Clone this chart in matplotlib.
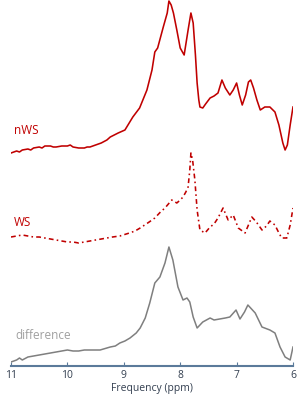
import matplotlib
matplotlib.use("Agg")
import matplotlib.pyplot as plt
import numpy as np

# ---- data (ppm, intensity in arbitrary units relative to each trace's baseline) ----
nws_ppm = [11.0, 10.95, 10.9, 10.85, 10.8, 10.7, 10.65, 10.6, 10.5, 10.45, 10.4, 10.3, 10.25, 10.2, 10.1,
           10.0, 9.95, 9.9, 9.8, 9.7, 9.65, 9.6, 9.5, 9.45, 9.4, 9.3, 9.24, 9.1, 8.98, 8.84, 8.72,
           8.59, 8.5, 8.45, 8.40, 8.30, 8.23, 8.20, 8.16, 8.12, 8.06, 8.0, 7.93, 7.86, 7.81,
           7.77, 7.73, 7.70, 7.67, 7.65, 7.60, 7.55, 7.47, 7.40, 7.33, 7.26, 7.20, 7.12, 7.06,
           7.0, 6.95, 6.90, 6.84, 6.79, 6.75, 6.70, 6.64, 6.58, 6.50, 6.41, 6.32, 6.25, 6.18,
           6.14, 6.10, 6.05, 6.00]
nws_int = [0, 1, 2, 1, 3, 4, 3, 5, 6, 5, 7, 7, 6, 6, 7,
           7, 8, 6, 5, 5, 6, 6, 8, 9, 10, 13, 16, 20, 23, 36, 45,
           63, 83, 101, 105, 126, 140, 152, 148, 140, 123, 105, 98, 123, 140,
           130, 98, 70, 53, 46, 45, 49, 55, 57, 60, 73, 65, 58, 63,
           70, 58, 48, 58, 71, 73, 65, 53, 43, 46, 46, 41, 28, 10,
           3, 8, 28, 46]

ws_ppm = [11.0, 10.9, 10.8, 10.7, 10.6, 10.5, 10.4, 10.3, 10.2, 10.1, 10.0, 9.9, 9.8, 9.7, 9.6,
          9.5, 9.4, 9.3, 9.2, 9.07, 8.9, 8.8, 8.71, 8.55, 8.45, 8.35, 8.27, 8.15, 8.06, 8.0, 7.95,
          7.90, 7.86, 7.83, 7.81, 7.78, 7.74, 7.70, 7.65, 7.56, 7.47, 7.40, 7.33, 7.24, 7.15,
          7.06, 6.97, 6.85, 6.79, 6.73, 6.65, 6.55, 6.47, 6.41, 6.32, 6.25, 6.20, 6.11, 6.05, 6.00]
ws_int = [1, 2, 3, 2, 1, 1, 0, -1, -2, -3, -4, -4, -5, -4, -3,
          -2, -1, 0, 1, 2, 5, 7, 10, 16, 20, 26, 30, 38, 35, 38, 41,
          46, 51, 68, 85, 78, 58, 28, 8, 5, 11, 14, 20, 30, 18,
          23, 10, 5, 13, 21, 16, 8, 12, 17, 13, 5, 0, 0, 13, 30]

diff_ppm = [11.0, 10.9, 10.85, 10.8, 10.7, 10.6, 10.5, 10.4, 10.3, 10.2, 10.0, 9.9, 9.8, 9.7, 9.6,
            9.5, 9.42, 9.3, 9.24, 9.15, 9.07, 8.98, 8.89, 8.78, 8.71, 8.62, 8.54, 8.45, 8.36, 8.27,
            8.20, 8.13, 8.04, 7.95, 7.88, 7.83, 7.77, 7.70, 7.60, 7.47, 7.40, 7.30, 7.20, 7.12,
            7.01, 6.94, 6.86, 6.80, 6.67, 6.55, 6.41, 6.32, 6.23, 6.14, 6.05, 6.00]
diff_int = [4, 6, 8, 6, 9, 10, 11, 12, 13, 14, 16, 15, 15, 16, 16,
            16, 16, 18, 19, 20, 23, 25, 28, 33, 38, 48, 63, 83, 89, 103,
            119, 106, 79, 66, 68, 64, 49, 38, 44, 48, 46, 47, 48, 49,
            56, 47, 54, 61, 53, 39, 36, 33, 19, 9, 6, 19]

labels = ["nWS", "WS", "difference"]
tick_vals = [11, 10, 9, 8, 7, 6]

# ---- figure ----
plt.rcParams['font.family'] = ['Open Sans', 'DejaVu Sans']
fig = plt.figure(figsize=(3.03, 4.0), dpi=100)
ax = fig.add_axes([11 / 303, 1 - 366 / 400, (293 - 11) / 303, 366 / 400])

red = '#C00000'
gray = '#7F7F7F'
off_nws, off_ws, off_diff = 213, 128, 0

ax.plot(nws_ppm, np.array(nws_int) + off_nws, color=red, lw=1.15)
ax.plot(ws_ppm, np.array(ws_int) + off_ws, color=red, lw=1.15, linestyle=(0, (3, 2, 1, 2)))
ax.plot(diff_ppm, np.array(diff_int) + off_diff, color=gray, lw=1.1)

ax.text(10.95, 229, labels[0], color=red, fontsize=8.5, ha='left', va='bottom')
ax.text(10.95, 137, labels[1], color=red, fontsize=8.5, ha='left', va='bottom')
ax.text(10.92, 24, labels[2], color='#A0A0A0', fontsize=8.5, ha='left', va='bottom')

ax.set_xlim(11, 6)
ax.set_ylim(0, 366)
ax.set_xticks(tick_vals)
ax.set_xticklabels([str(t) for t in tick_vals], fontsize=7.5, color='#333F50')
ax.tick_params(axis='x', direction='in', length=3, color='#5B7A9A', pad=3)
ax.set_yticks([])
for s in ['top', 'left', 'right']:
    ax.spines[s].set_visible(False)
ax.spines['bottom'].set_color('#5B7A9A')
ax.spines['bottom'].set_linewidth(1.5)
ax.set_xlabel('Frequency (ppm)', fontsize=7.5, color='#333F50', labelpad=1)
ax.patch.set_alpha(0)

fig.savefig('out.png', dpi=100)
